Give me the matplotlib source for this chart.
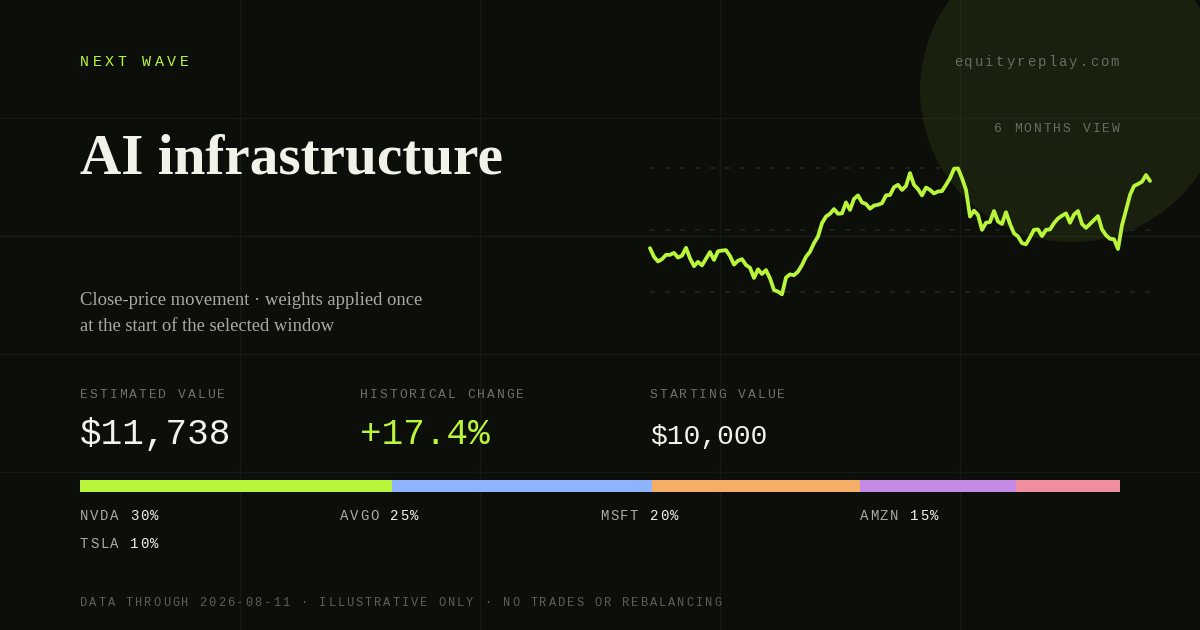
import numpy as np
import matplotlib
matplotlib.use('Agg')
import matplotlib.pyplot as plt
from matplotlib.patches import Circle
from matplotlib.text import Text
from matplotlib.transforms import Bbox

# -------------------------------
# data
# -------------------------------
tickers = ['NVDA', 'AVGO', 'MSFT', 'AMZN', 'TSLA']
weights = [30, 25, 20, 15, 10]
weight_colors = ['#b9f53a', '#8fb4ff', '#f4ae66', '#c48ae6', '#ee8e9e']

# portfolio indexed to 100 at the start of the window
index_values = [
    100.2, 98.0, 96.8, 97.4, 98.5, 98.5, 99.0, 97.8, 98.3, 100.3,
    97.6, 95.6, 96.7, 95.8, 97.5, 99.2, 97.2, 99.4, 99.6, 99.7,
    98.2, 96.0, 97.0, 97.4, 95.9, 95.2, 92.6, 94.8, 93.6, 94.6,
    92.5, 89.5, 89.1, 88.4, 92.7, 93.5, 93.3, 94.2, 95.9, 98.0,
    99.3, 101.5, 103.2, 106.6, 108.3, 109.0, 110.2, 109.0, 109.1, 111.9,
    110.0, 112.8, 113.7, 111.9, 111.5, 110.3, 111.1, 111.3, 111.7, 113.7,
    113.8, 115.8, 116.4, 115.1, 116.1, 119.4,
    116.4, 115.3, 113.7, 115.7, 115.1, 114.2, 114.7, 114.8, 116.4, 118.1,
    120.5, 120.6, 118.1, 115.1, 108.3, 109.8, 108.7, 104.9, 106.7, 106.9,
    109.7, 107.0, 106.4, 109.4, 106.4, 104.0, 103.2, 101.5, 101.2, 103.0,
    104.9, 105.0, 103.3, 104.9, 105.0, 106.6, 107.8, 108.5, 109.1, 106.7,
    108.8, 109.7, 106.4, 105.4, 106.4, 107.4, 108.4, 105.0, 103.5, 102.6,
    102.5, 100.0, 106.1, 109.9, 113.8, 116.1, 116.6, 117.2, 118.9, 117.4,
]
chart_levels = [89.0, 104.85, 120.7]

# -------------------------------
# styles
# -------------------------------
BG = '#0c0e0a'
GRID = '#161915'
LIME = '#b9f53a'
MONO = ['Liberation Mono', 'DejaVu Sans Mono']
SERIF = ['Liberation Serif', 'DejaVu Serif']
W, H = 1200, 630


class TrackedText(Text):
    # matplotlib has no letter-spacing, so draw the mono string one glyph at a time
    def __init__(self, x, y, text, step, **kw):
        super().__init__(x, y, text, **kw)
        self.step = step

    def _start(self):
        x = self.get_position()[0]
        if self.get_ha() == 'right':
            x -= self.step * len(self.get_text())
        return x

    def draw(self, renderer):
        full, pos, ha = self.get_text(), self.get_position(), self.get_ha()
        x0 = self._start()
        self._ha = 'left'
        for i, ch in enumerate(full):
            self._text = ch
            self._x = x0 + i * self.step
            super().draw(renderer)
        self._text = full
        self._x = pos[0]
        self._ha = ha

    def get_window_extent(self, renderer=None, dpi=None):
        x0 = self._start()
        x1 = x0 + self.step * len(self.get_text())
        y = self.get_position()[1]
        size = self.get_fontsize() / 0.72
        pts = self.get_transform().transform([(x0, y), (x1, y - size)])
        return Bbox(pts)


def spaced(ax, x, y, s, size, step, color, ha='left'):
    t = TrackedText(x, y, s, step, fontsize=size * 0.72, color=color, family=MONO,
                    ha=ha, va='baseline', transform=ax.transData)
    ax.add_artist(t)
    return t


fig = plt.figure(figsize=(W / 100, H / 100), dpi=100, facecolor=BG)

# page axes, in pixels
ax = fig.add_axes([0, 0, 1, 1])
ax.set_xlim(0, W)
ax.set_ylim(H, 0)
ax.axis('off')

ax.add_patch(Circle((1072, 90), 152, facecolor=LIME, alpha=0.08, edgecolor='none', zorder=1))
for x in (240, 480, 720, 960):
    ax.axvline(x, color=GRID, lw=1, zorder=0.5)
for y in (118, 236, 354, 472):
    ax.axhline(y, color=GRID, lw=1, zorder=0.5)

spaced(ax, 80, 66, 'NEXT WAVE', 15, 12.45, LIME)
spaced(ax, 1129.5, 66, 'equityreplay.com', 14, 10.45, '#686d63', ha='right')
spaced(ax, 1129.5, 132, '6 MONTHS VIEW', 13, 9.8, '#686d63', ha='right')

ax.text(80, 174, 'AI infrastructure', fontsize=57.3 * 0.72, fontweight='bold', family=SERIF,
        color='#f2f2e9', va='baseline')
ax.text(80, 305, 'Close-price movement · weights applied once', fontsize=18.7 * 0.72, family=SERIF,
        color='#a8ab9f', va='baseline')
ax.text(80, 331, 'at the start of the selected window', fontsize=18.7 * 0.72, family=SERIF,
        color='#a8ab9f', va='baseline')

spaced(ax, 80, 398, 'ESTIMATED VALUE', 13, 9.8, '#6d7268')
spaced(ax, 360, 398, 'HISTORICAL CHANGE', 13, 9.77, '#6d7268')
spaced(ax, 650, 398, 'STARTING VALUE', 13, 9.8, '#6d7268')

ax.text(80, 444, '$11,738', fontsize=36 * 0.72, family=MONO, color='#f2f2e9', va='baseline')
ax.text(360, 444, '+17.4%', fontsize=36 * 0.72, family=MONO, color=LIME, va='baseline')
ax.text(650, 444, '$10,000', fontsize=28 * 0.72, family=MONO, color='#f2f2e9', va='baseline')

# legend under the bar: four on the first row, the last one wraps
legend_pos = [(80, 520), (340, 520), (600, 520), (860, 520), (80, 548)]
for (x, y), name, w in zip(legend_pos, tickers, weights):
    spaced(ax, x, y, name, 14, 10, '#a8ab9f')
    spaced(ax, x + 50, y, f'{w}%', 14, 10, '#f2f2e9')

spaced(ax, 80, 606, 'DATA THROUGH 2026-08-11 · ILLUSTRATIVE ONLY · NO TRADES OR REBALANCING',
       12, 9.19, '#5c6158')

# price line
chart = fig.add_axes([650 / W, 1 - 292 / H, 500 / W, 124 / H])
chart.patch.set_alpha(0)
chart.axis('off')
chart.set_xlim(0, len(index_values) - 1)
chart.set_ylim(chart_levels[0], chart_levels[-1])
for level in chart_levels:
    chart.plot([0, len(index_values) - 1], [level, level], color='#1d201b', lw=2 * 0.72,
               dashes=(2.5, 5), clip_on=False)
chart.plot(range(len(index_values)), index_values, color=LIME, lw=3.8 * 0.72, clip_on=False,
           solid_joinstyle='round', solid_capstyle='round')

# weight bar
bar = fig.add_axes([80 / W, 1 - 492 / H, 1040 / W, 12 / H])
bar.axis('off')
bar.set_xlim(0, sum(weights))
bar.set_ylim(0, 1)
left = 0
for w, c in zip(weights, weight_colors):
    bar.barh(0.5, w, left=left, height=1, color=c, linewidth=0)
    left += w

fig.savefig('out.png', dpi=100, facecolor=BG)
